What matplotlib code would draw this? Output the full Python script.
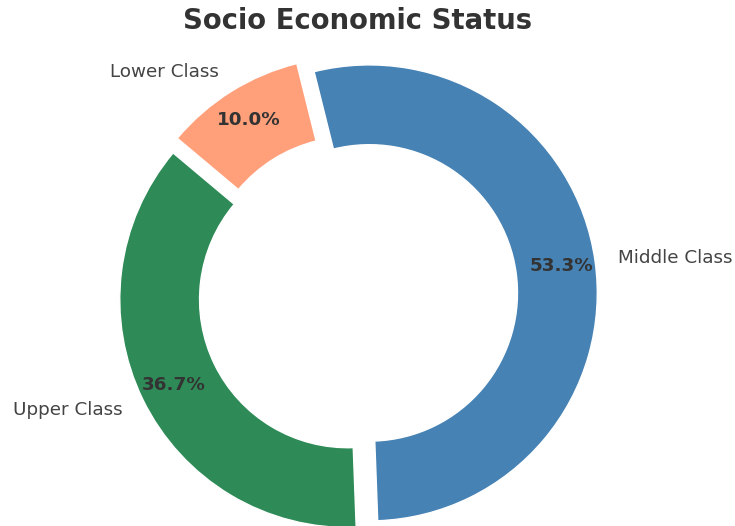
import matplotlib.pyplot as plt

plt.rcParams['font.family'] = ['DejaVu Sans']

# Data
labels = ["Upper Class", "Middle Class", "Lower Class"]
shares = [36.7, 53.3, 10.0]
colors = ["#2E8B57", "#4682B4", "#FFA07A"]
explode = [0.05, 0.05, 0.05]

TEXT = "#333333"

fig = plt.figure(figsize=(7.35, 5.26), dpi=100)
ax = fig.add_axes([0, 0, 1, 1])

wedges, texts, autotexts = ax.pie(
    shares,
    labels=labels,
    colors=colors,
    explode=explode,
    startangle=140,
    autopct="%1.1f%%",
    pctdistance=0.85,
    labeldistance=1.1,
    wedgeprops=dict(width=0.35, edgecolor="white"),
    textprops=dict(color="#444444", fontsize=13.2),
)
for t in autotexts:
    t.set_fontweight("bold")
    t.set_color(TEXT)
    t.set_fontsize(13.2)

# map data units to pixels (radius 1 ~ 228 px, centre at 359, 294 from top)
scale = 228.0
cx, cy = 358.0, 526.0 - 294.5
ax.set_xlim(-cx / scale, (735 - cx) / scale)
ax.set_ylim(-cy / scale, (526 - cy) / scale)
ax.set_aspect("auto")
ax.axis("off")

fig.text(0.487, 1 - 21 / 526, "Socio Economic Status", ha="center", va="center",
         fontsize=19.8, fontweight="bold", color=TEXT)

plt.savefig("out.png", dpi=100)
plt.close()
